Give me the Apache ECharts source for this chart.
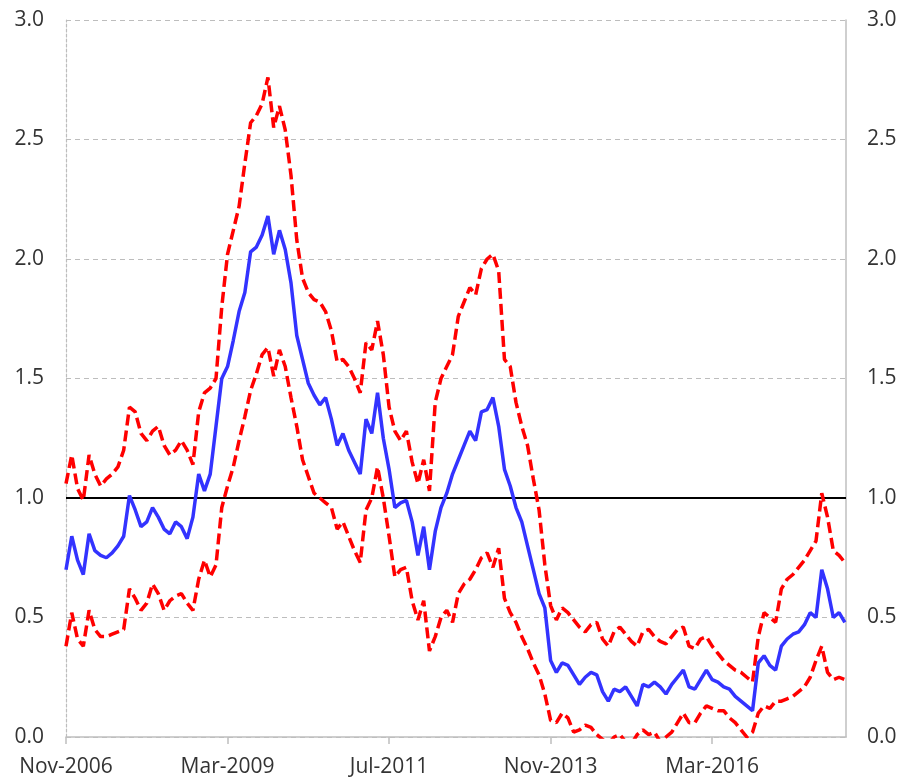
<!DOCTYPE html>
<html>
<head>
<meta charset="utf-8">
<script src="https://cdn.jsdelivr.net/npm/echarts@6/dist/echarts.min.js"></script>
<style>
  html, body { margin: 0; padding: 0; background: #fff; }
  #chart { width: 903px; height: 779px; }
</style>
</head>
<body>
<div id="chart"></div>
<script>
// monthly readings, first point = Nov-2006
var MONTH_NAMES = ['Jan', 'Feb', 'Mar', 'Apr', 'May', 'Jun', 'Jul', 'Aug', 'Sep', 'Oct', 'Nov', 'Dec'];
var START_YEAR = 2006;
var START_MONTH = 10; // Nov
var tickMonths = [0, 28, 56, 84, 112];
var yTicks = [0, 0.5, 1.0, 1.5, 2.0, 2.5, 3.0];
var threshold = 1.0;

var central = [
  0.70, 0.84, 0.74, 0.68, 0.85, 0.78, 0.76, 0.75, 0.77, 0.80,
  0.84, 1.01, 0.95, 0.88, 0.90, 0.96, 0.92, 0.87, 0.85, 0.90,
  0.88, 0.83, 0.92, 1.10, 1.03, 1.10, 1.30, 1.50, 1.55, 1.66,
  1.78, 1.86, 2.03, 2.05, 2.10, 2.18, 2.02, 2.12, 2.04, 1.90,
  1.68, 1.58, 1.48, 1.43, 1.39, 1.42, 1.33, 1.22, 1.27, 1.20,
  1.15, 1.10, 1.33, 1.27, 1.44, 1.25, 1.12, 0.96, 0.98, 0.99,
  0.90, 0.76, 0.88, 0.70, 0.86, 0.96, 1.02, 1.10, 1.16, 1.22,
  1.28, 1.24, 1.36, 1.37, 1.42, 1.30, 1.12, 1.05, 0.96, 0.90,
  0.80, 0.70, 0.60, 0.54, 0.32, 0.27, 0.31, 0.30, 0.26, 0.22,
  0.25, 0.27, 0.26, 0.19, 0.15, 0.20, 0.19, 0.21, 0.17, 0.13,
  0.22, 0.21, 0.23, 0.21, 0.18, 0.22, 0.25, 0.28, 0.21, 0.20,
  0.24, 0.28, 0.24, 0.23, 0.21, 0.20, 0.17, 0.15, 0.13, 0.11,
  0.31, 0.34, 0.30, 0.28, 0.38, 0.41, 0.43, 0.44, 0.47, 0.52,
  0.50, 0.70, 0.62, 0.50, 0.52, 0.48
];

var upper = [
  1.06, 1.18, 1.04, 0.99, 1.18, 1.10, 1.05, 1.08, 1.10, 1.13,
  1.20, 1.38, 1.36, 1.27, 1.24, 1.28, 1.30, 1.22, 1.18, 1.20,
  1.24, 1.20, 1.14, 1.36, 1.44, 1.46, 1.50, 1.80, 2.02, 2.12,
  2.22, 2.40, 2.57, 2.60, 2.65, 2.76, 2.55, 2.64, 2.54, 2.35,
  2.08, 1.92, 1.86, 1.83, 1.82, 1.78, 1.70, 1.57, 1.58, 1.55,
  1.50, 1.44, 1.65, 1.62, 1.74, 1.60, 1.38, 1.28, 1.24, 1.28,
  1.15, 1.06, 1.16, 1.03, 1.40, 1.50, 1.55, 1.60, 1.76, 1.82,
  1.88, 1.85, 1.96, 2.00, 2.02, 1.95, 1.58, 1.55, 1.40, 1.30,
  1.22, 1.08, 0.95, 0.72, 0.55, 0.49, 0.54, 0.52, 0.49, 0.46,
  0.44, 0.47, 0.48, 0.41, 0.38, 0.44, 0.46, 0.43, 0.40, 0.38,
  0.44, 0.45, 0.42, 0.40, 0.39, 0.42, 0.45, 0.46, 0.38, 0.37,
  0.41, 0.42, 0.38, 0.35, 0.32, 0.30, 0.28, 0.27, 0.25, 0.23,
  0.42, 0.52, 0.50, 0.48, 0.62, 0.66, 0.68, 0.71, 0.74, 0.78,
  0.82, 1.02, 0.92, 0.78, 0.76, 0.73
];

var lower = [
  0.38, 0.52, 0.41, 0.38, 0.53, 0.45, 0.42, 0.42, 0.43, 0.44,
  0.45, 0.62, 0.58, 0.53, 0.56, 0.64, 0.60, 0.53, 0.57, 0.59,
  0.60, 0.56, 0.53, 0.66, 0.74, 0.67, 0.72, 0.96, 1.05, 1.13,
  1.24, 1.34, 1.45, 1.52, 1.60, 1.63, 1.51, 1.62, 1.55, 1.42,
  1.30, 1.16, 1.09, 1.02, 1.00, 0.98, 0.96, 0.87, 0.90, 0.84,
  0.78, 0.73, 0.95, 1.00, 1.13, 1.00, 0.84, 0.67, 0.70, 0.71,
  0.57, 0.49, 0.57, 0.36, 0.42, 0.50, 0.53, 0.48, 0.60, 0.64,
  0.66, 0.70, 0.75, 0.77, 0.71, 0.79, 0.58, 0.52, 0.48, 0.42,
  0.37, 0.31, 0.26, 0.18, 0.07, 0.06, 0.10, 0.08, 0.02, 0.03,
  0.05, 0.04, 0.01, -0.01, -0.03, 0.00, 0.01, -0.02, -0.03, 0.01,
  0.03, 0.01, 0.02, -0.02, 0.00, 0.02, 0.06, 0.10, 0.06, 0.06,
  0.10, 0.13, 0.12, 0.11, 0.11, 0.08, 0.06, 0.03, 0.00, 0.02,
  0.10, 0.13, 0.12, 0.15, 0.15, 0.16, 0.17, 0.19, 0.21, 0.25,
  0.32, 0.38, 0.27, 0.24, 0.25, 0.24
];

function monthLabel(m) {
  var total = START_MONTH + Math.round(m);
  return MONTH_NAMES[total % 12] + '-' + (START_YEAR + Math.floor(total / 12));
}

function toPairs(arr) {
  return arr.map(function (v, i) { return [i, v]; });
}

var FONT = '"Open Sans", "Liberation Sans", sans-serif';
var labelStyle = { color: '#333', fontSize: 21, fontFamily: FONT };

var chart = echarts.init(document.getElementById('chart'), null, { renderer: 'canvas' });

chart.setOption({
  animation: false,
  backgroundColor: '#fff',
  grid: { left: 66, right: 57, top: 20, bottom: 42, containLabel: false },
  xAxis: {
    type: 'value',
    min: 0,
    max: 135.2,
    axisLine: { show: true, lineStyle: { color: '#bfbfbf', width: 1.5 } },
    axisTick: { show: true, customValues: tickMonths, length: 7, lineStyle: { color: '#bfbfbf', width: 1.5 } },
    axisLabel: Object.assign({ customValues: tickMonths, margin: 20, formatter: monthLabel }, labelStyle),
    splitLine: { show: false }
  },
  yAxis: [{
    type: 'value',
    min: yTicks[0],
    max: yTicks[yTicks.length - 1],
    interval: 0.5,
    position: 'left',
    axisLine: { show: true, lineStyle: { color: '#bdbdbd', width: 1.2, type: [3, 2] } },
    axisTick: { show: false },
    axisLabel: Object.assign({ margin: 22, formatter: function (v) { return v.toFixed(1); } }, labelStyle),
    splitLine: { show: true, lineStyle: { color: '#bdbdbd', width: 1.2, type: [5, 4] } }
  }, {
    type: 'value',
    min: yTicks[0],
    max: yTicks[yTicks.length - 1],
    interval: 0.5,
    position: 'right',
    axisLine: { show: true, lineStyle: { color: '#bfbfbf', width: 1.5 } },
    axisTick: { show: false },
    axisLabel: Object.assign({ margin: 21, formatter: function (v) { return v.toFixed(1); } }, labelStyle),
    splitLine: { show: false }
  }],
  series: [{
    name: 'threshold',
    type: 'line',
    data: [[0, threshold], [135.2, threshold]],
    symbol: 'none',
    silent: true,
    z: 1,
    lineStyle: { color: '#000', width: 2 }
  }, {
    name: 'upper',
    type: 'line',
    data: toPairs(upper),
    symbol: 'none',
    z: 2,
    lineStyle: { color: '#ff0000', width: 3.5, type: [11, 5] }
  }, {
    name: 'lower',
    type: 'line',
    data: toPairs(lower),
    symbol: 'none',
    z: 2,
    lineStyle: { color: '#ff0000', width: 3.5, type: [11, 5] }
  }, {
    name: 'central',
    type: 'line',
    data: toPairs(central),
    symbol: 'none',
    z: 3,
    lineStyle: { color: '#3333ff', width: 3.5 }
  }]
});
</script>
</body>
</html>
